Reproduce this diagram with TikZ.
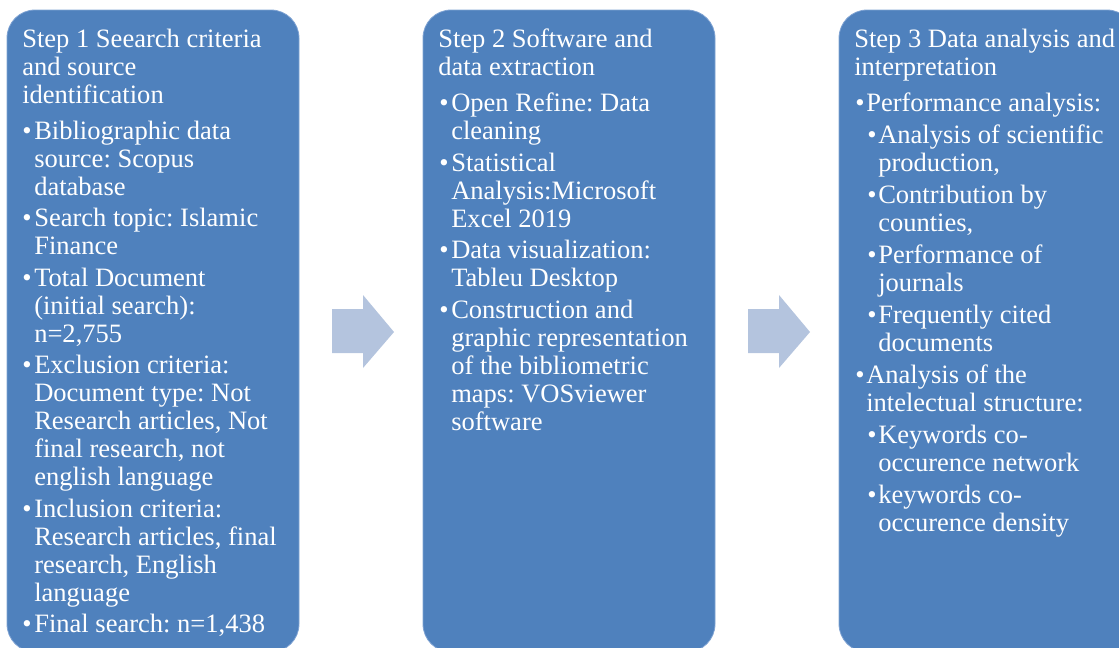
\documentclass[tikz,border=0pt]{standalone}
\usepackage{fontspec}
\setmainfont{Liberation Serif}
\definecolor{boxblue}{HTML}{4F81BD}
\definecolor{boxedge}{HTML}{7FA3D3}
\definecolor{arrowblue}{HTML}{B4C4DE}
\newcommand\bul[1][9pt]{\makebox[#1][l]{\textbullet}}
\newcommand\tline[4]{\node[txt] (#1) at (#2,#3) {#4};}
\frenchspacing
\begin{document}
\begin{tikzpicture}[x=0.75pt,y=-0.75pt,
  stepbox/.style={fill=boxblue, draw=boxedge, line width=0.6pt, rounded corners=21pt},
  txt/.style={text=white, font=\fontsize{19.9}{21}\selectfont\frenchspacing, inner sep=0pt, anchor=base west},
  flow/.style={fill=arrowblue, draw=none}]
\useasboundingbox (0,0) rectangle (1119,647);
\clip (0,0) rectangle (1119,647);
% boxes
\draw[stepbox] (7,10) rectangle (299,652);
\draw[stepbox] (423,10) rectangle (715,652);
\draw[stepbox] (839,10) rectangle (1135,652);
% arrows
\fill[flow] (332,309) coordinate (a1) -- (363,309) -- (363,295) -- (394,332) coordinate (a1tip) -- (363,368) -- (363,353) -- (332,353) -- cycle;
\fill[flow] (748,309) coordinate (a2) -- (779,309) -- (779,295) -- (810,332) coordinate (a2tip) -- (779,368) -- (779,353) -- (748,353) -- cycle;
% box 1
\tline{t1a}{22}{47}{Step 1 Seearch criteria}
\tline{t1b}{22}{75}{and source}
\tline{t1c}{22}{103}{identification}
\tline{b1a}{22}{139}{\bul Bibliographic data}
\tline{b1b}{34}{167}{source: Scopus}
\tline{b1c}{34}{195}{database}
\tline{b1d}{22}{226.5}{\bul Search topic: Islamic}
\tline{b1e}{34}{254.5}{Finance}
\tline{b1f}{22}{286}{\bul Total Document}
\tline{b1g}{34}{314}{(initial search):}
\tline{b1h}{34}{342}{n=2,755}
\tline{b1i}{22}{373.5}{\bul Exclusion criteria:}
\tline{b1j}{34}{401.5}{Document type: Not}
\tline{b1k}{34}{429.5}{Research articles, Not}
\tline{b1l}{34}{457.5}{final research, not}
\tline{b1m}{34}{485.5}{english language}
\tline{b1n}{22}{517}{\bul Inclusion criteria:}
\tline{b1o}{34}{545}{Research articles, final}
\tline{b1p}{34}{573}{research, English}
\tline{b1q}{34}{601}{language}
\tline{b1r}{22}{632.5}{\bul Final search: n=1,438}
% box 2
\tline{t2a}{438}{47}{Step 2 Software and}
\tline{t2b}{438}{75}{data extraction}
\tline{b2a}{439}{111.5}{\bul Open Refine: Data}
\tline{b2b}{451}{139.5}{cleaning}
\tline{b2c}{439}{171}{\bul Statistical}
\tline{b2d}{451}{199}{Analysis:Microsoft}
\tline{b2e}{451}{227}{Excel 2019}
\tline{b2f}{439}{258.5}{\bul Data visualization:}
\tline{b2g}{451}{286.5}{Tableu Desktop}
\tline{b2h}{439}{318}{\bul Construction and}
\tline{b2i}{451}{346}{graphic representation}
\tline{b2j}{451}{374}{of the bibliometric}
\tline{b2k}{451}{402}{maps: VOSviewer}
\tline{b2l}{451}{430}{software}
% box 3
\tline{t3a}{854}{47}{Step 3 Data analysis and}
\tline{t3b}{854}{75}{interpretation}
\tline{b3a}{855}{111.5}{\bul[8.25pt]Performance analysis:}
\tline{b3b}{867}{143.5}{\bul[8.25pt]Analysis of scientific}
\tline{b3c}{878}{171.5}{production,}
\tline{b3d}{867}{203.5}{\bul[8.25pt]Contribution by}
\tline{b3e}{878}{231.5}{counties,}
\tline{b3f}{867}{263.5}{\bul[8.25pt]Performance of}
\tline{b3g}{878}{291.5}{journals}
\tline{b3h}{867}{323.5}{\bul[8.25pt]Frequently cited}
\tline{b3i}{878}{351.5}{documents}
\tline{b3j}{855}{383.5}{\bul[8.25pt]Analysis of the}
\tline{b3k}{866}{411.5}{intelectual structure:}
\tline{b3l}{867}{443.5}{\bul[8.25pt]Keywords co-}
\tline{b3m}{878}{471.5}{occurence network}
\tline{b3n}{867}{503.5}{\bul[8.25pt]keywords co-}
\tline{b3o}{878}{531.5}{occurence density}
\end{tikzpicture}
\end{document}
